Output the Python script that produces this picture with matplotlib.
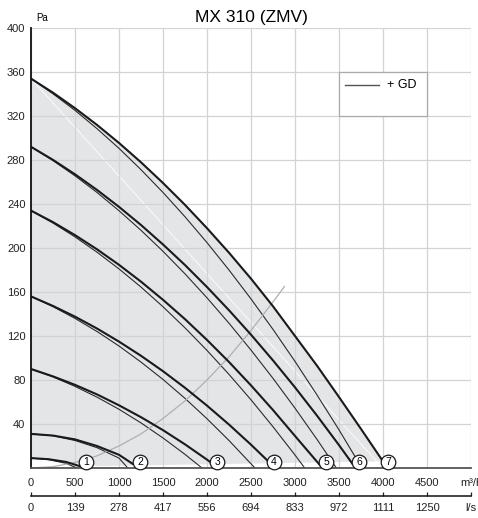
import numpy as np
import matplotlib
matplotlib.use("Agg")
import matplotlib.pyplot as plt
from matplotlib.patches import Rectangle

plt.rcParams["font.family"] = ["Liberation Sans", "DejaVu Sans"]

# airflow ticks (m3/h) and matching l/s labels
m3h_ticks = [0, 500, 1000, 1500, 2000, 2500, 3000, 3500, 4000, 4500, 5000]
m3h_labels = ["0", "500", "1000", "1500", "2000", "2500", "3000", "3500", "4000", "4500", "m³/h"]
ls_labels = ["0", "139", "278", "417", "556", "694", "833", "972", "1111", "1250", "l/s"]
pa_ticks = [40, 80, 120, 160, 200, 240, 280, 320, 360, 400]

# fan curves, bare fan (thick) and with GD (thin)
c7_x = [0, 250, 500, 750, 1000, 1250, 1500, 1750, 2000, 2250, 2500, 2750, 3000, 3250, 3500, 3750, 4000]
c7_pa = [354, 341.2, 327.1, 311.9, 295.5, 277.9, 259.1, 239.2, 218, 195.7, 172.1, 147, 120, 93, 64.5, 35.5, 6]
g7_x = [0, 250, 500, 750, 1000, 1250, 1500, 1750, 2000, 2250, 2500, 2750, 3000, 3250, 3500, 3760]
g7_pa = [354, 340.2, 325.1, 308.5, 290.6, 271.2, 250.5, 228.4, 204.9, 180, 153.7, 126, 96.9, 66.4, 34.7, 0]

c6_x = [0, 250, 500, 750, 1000, 1250, 1500, 1750, 2000, 2250, 2500, 2750, 3000, 3250, 3500, 3660]
c6_pa = [292, 280.1, 267, 252.8, 237.4, 220.9, 203.2, 184.5, 164.5, 143.4, 121.2, 97.8, 73.3, 47.6, 20.8, 3]
g6_x = [0, 250, 500, 750, 1000, 1250, 1500, 1750, 2000, 2250, 2500, 2750, 3000, 3250, 3470]
g6_pa = [292, 279.5, 265.6, 250.5, 233.9, 216.1, 197, 176.5, 154.7, 131.6, 107.2, 81.5, 54.4, 26, 0]

c5_x = [0, 250, 500, 750, 1000, 1250, 1500, 1750, 2000, 2250, 2500, 2750, 3000, 3290]
c5_pa = [234, 223.5, 211.7, 198.8, 184.7, 169.4, 152.9, 135.3, 116.4, 96.4, 75.1, 52.7, 29.1, 2]
g5_x = [0, 250, 500, 750, 1000, 1250, 1500, 1750, 2000, 2250, 2500, 2750, 3000, 3110]
g5_pa = [234, 222.7, 210.1, 196.2, 181, 164.5, 146.6, 127.4, 106.9, 85.1, 62, 37.5, 11.8, 0]

c4_x = [0, 250, 500, 750, 1000, 1250, 1500, 1750, 2000, 2250, 2500, 2710]
c4_pa = [156, 147.3, 137.6, 126.8, 114.9, 102, 88, 72.9, 56.7, 39.5, 21.2, 5]
g4_x = [0, 250, 500, 750, 1000, 1250, 1500, 1750, 2000, 2250, 2545]
g4_pa = [156, 146.7, 136, 124.1, 110.9, 96.3, 80.5, 63.3, 44.8, 25, 0]

c3_x = [0, 250, 500, 750, 1000, 1250, 1500, 1750, 2000, 2045]
c3_pa = [90, 83.3, 75.6, 66.9, 57, 46.2, 34.4, 21.5, 7.6, 5]
g3_x = [0, 250, 500, 750, 1000, 1250, 1500, 1750, 1943]
g3_pa = [90, 82.8, 74.2, 64.4, 53.4, 41, 27.3, 12.4, 0]

c2_x = [0, 250, 500, 750, 1000, 1170]
c2_pa = [31, 29.5, 26, 20, 12, 3]
g2_x = [0, 250, 500, 750, 1000, 1100]
g2_pa = [31, 29.3, 25, 18.5, 9, 0]

c1_x = [0, 200, 400, 560]
c1_pa = [9, 8, 5.5, 1.5]
g1_x = [0, 200, 400, 520]
g1_pa = [9, 7.6, 4.2, 0]

# faint white line across the shaded field
w_x = [0, 3950]
w_pa = [354, 4]

# system curve
sys_x = [0, 250, 500, 750, 1000, 1250, 1500, 1750, 2000, 2250, 2500, 2750, 2880]
sys_pa = [0, 1.2, 5, 11, 20, 31, 45, 61, 80, 101, 125, 151, 165]

# speed labels
lab_x = [625, 1239, 2114, 2761, 3352, 3727, 4057]
lab_pa = [5.5, 5.5, 5.5, 5.5, 5.5, 5.5, 5.5]
lab_txt = ["1", "2", "3", "4", "5", "6", "7"]

fig = plt.figure(figsize=(4.78, 5.18), dpi=100)
ax = fig.add_axes([31 / 478, 50 / 518, 440 / 478, 440 / 518])
ax.set_xlim(0, 5000)
ax.set_ylim(0, 400)

# shaded working area
ax.fill(c7_x + c1_x[::-1], c7_pa + c1_pa[::-1], color="#e4e5e7", lw=0, zorder=1)
ax.plot(w_x, w_pa, color="white", lw=0.6, zorder=1.2)

ax.set_axisbelow("line")
ax.grid(True, color="#d3d3d3", lw=0.9)

thick = [(c1_x, c1_pa), (c2_x, c2_pa), (c3_x, c3_pa), (c4_x, c4_pa),
         (c5_x, c5_pa), (c6_x, c6_pa), (c7_x, c7_pa)]
thin = [(g1_x, g1_pa), (g2_x, g2_pa), (g3_x, g3_pa), (g4_x, g4_pa),
        (g5_x, g5_pa), (g6_x, g6_pa), (g7_x, g7_pa)]
for xs, ys in thin:
    ax.plot(xs, ys, color="#2a2a2a", lw=0.8, zorder=2, solid_capstyle="butt")
for xs, ys in thick:
    ax.plot(xs, ys, color="#1a1a1a", lw=1.5, zorder=2.1, solid_capstyle="butt")

ax.plot(sys_x, sys_pa, color="#b0b0b0", lw=0.9, zorder=2)

ax.plot(lab_x, lab_pa, "o", ms=10.5, mfc="white", mec="#1a1a1a", mew=0.9, zorder=3, clip_on=False)
for x, y, t in zip(lab_x, lab_pa, lab_txt):
    ax.text(x, y, t, ha="center", va="center", fontsize=7.5, zorder=4)

ax.set_xticks(m3h_ticks, labels=m3h_labels)
ax.set_yticks(pa_ticks)
ax.tick_params(length=0, labelsize=8, colors="#222222")
ax.tick_params(axis="x", pad=7)
ax.tick_params(axis="y", pad=4)

for s in ["top", "right"]:
    ax.spines[s].set_visible(False)
ax.spines["left"].set_color("#111111")
ax.spines["left"].set_linewidth(1.3)
ax.spines["bottom"].set_color("#555555")
ax.spines["bottom"].set_linewidth(1.3)

# second scale in l/s
sec = ax.secondary_xaxis(-28 / 440, functions=(lambda v: v / 3.6, lambda v: v * 3.6))
sec.set_xticks([v / 3.6 for v in m3h_ticks], labels=ls_labels)
sec.tick_params(direction="in", length=3, width=0.9, labelsize=8, pad=5, colors="#222222")
sec.spines["bottom"].set_color("#111111")
sec.spines["bottom"].set_linewidth(1.1)

# legend box
ax.add_patch(Rectangle((3500, 320), 1000, 40, fc="white", ec="#aaaaaa", lw=0.9, zorder=3))
ax.plot([3570, 3960], [348.5, 348.5], color="#555555", lw=1.0, zorder=4)
ax.text(4040, 348.5, "+ GD", fontsize=9, va="center", ha="left", zorder=4)

ax.text(0.012, 1.012, "Pa", transform=ax.transAxes, fontsize=7, va="bottom", ha="left")
fig.text(251 / 478, 1 - 22 / 518, "MX 310 (ZMV)", fontsize=12.5, ha="center", va="baseline")

fig.savefig("out.png", dpi=100)
